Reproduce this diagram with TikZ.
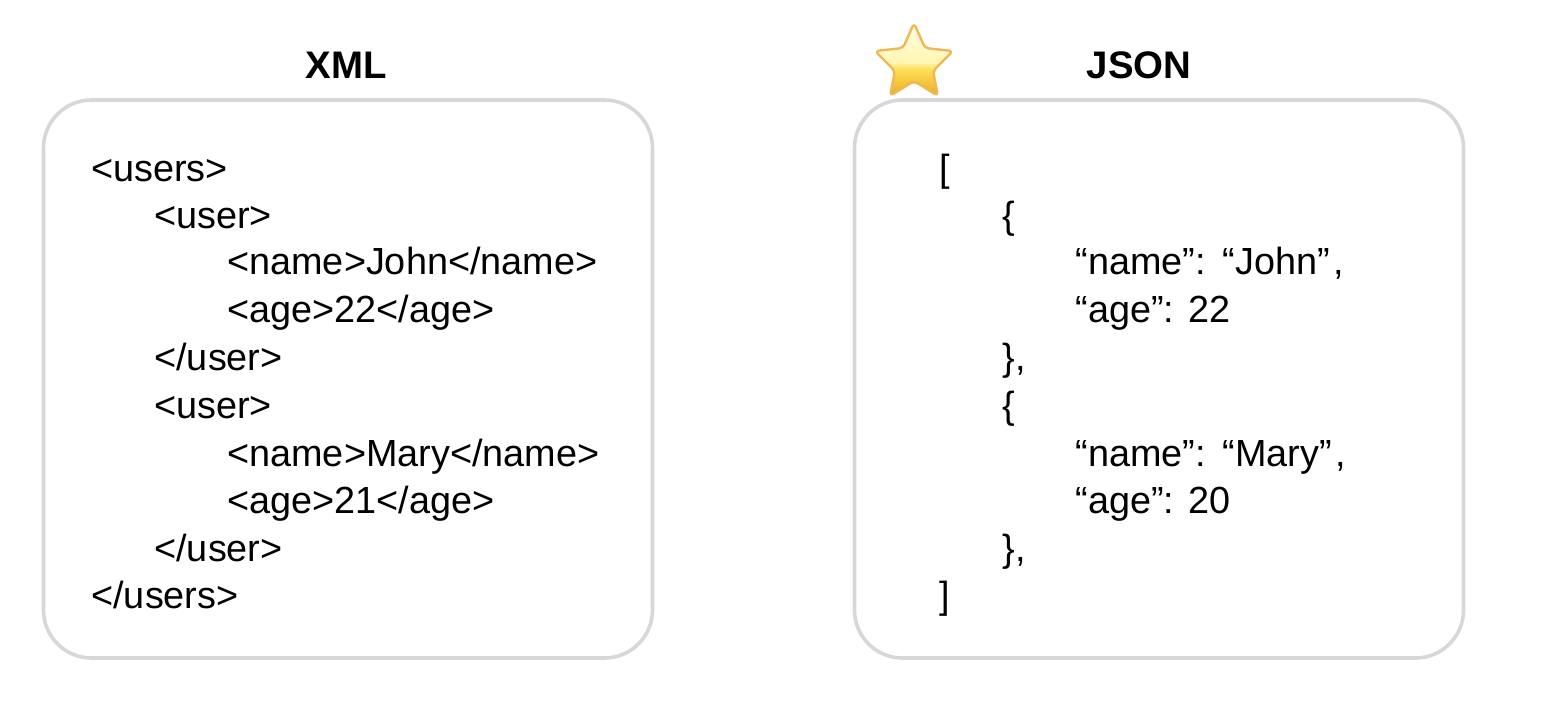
\documentclass[tikz,border=0pt]{standalone}
\usepackage{fontspec}
\setmainfont{Liberation Sans}
\usetikzlibrary{positioning}
\definecolor{boxgray}{RGB}{215,215,215}
\definecolor{staredge}{RGB}{238,185,85}
\definecolor{starA}{RGB}{232,170,45}
\definecolor{starB}{RGB}{245,200,60}
\definecolor{starC}{RGB}{252,225,90}
\definecolor{starD}{RGB}{255,246,180}
\definecolor{starE}{RGB}{255,253,225}
\pgfdeclareverticalshading{starfill}{100bp}{
	color(0bp)=(starA);
	color(25bp)=(starA);
	color(35bp)=(starB);
	color(44bp)=(starC);
	color(48bp)=(starD);
	color(75bp)=(starE);
	color(100bp)=(starE)}
\newlength{\unitpx}
\setlength{\unitpx}{0.5pt}
\tikzset{
	panel/.style={draw=boxgray, line width=1.8pt, rounded corners=24pt, minimum width=609\unitpx, minimum height=558\unitpx},
	heading/.style={font=\fontsize{19.2}{22}\selectfont\bfseries, anchor=base},
	codeline/.style={font=\fontsize{18.9}{22}\selectfont, anchor=base west, inner sep=0pt}
}
\begin{document}
\begin{tikzpicture}[x=\unitpx, y=-\unitpx]
	\useasboundingbox (0,0) rectangle (1542,720);
	\node [panel] (xmlbox) at (348,379) {};
	\node [panel] (jsonbox) at (1159,379) {};
	\node [heading] (xmltitle) at (346,78) {XML};
	\node [heading] (jsontitle) at (1139,78) {JSON};
	% left column
	\node [codeline] (x1) at (91,181) {<users>};
	\node [codeline] (x2) at (154,228) {<user>};
	\node [codeline] (x3) at (227,274) {<name>John</name>};
	\node [codeline] (x4) at (227,322) {<age>22</age>};
	\node [codeline] (x5) at (154,370) {</user>};
	\node [codeline] (x6) at (154,418) {<user>};
	\node [codeline] (x7) at (227,466) {<name>Mary</name>};
	\node [codeline] (x8) at (227,513) {<age>21</age>};
	\node [codeline] (x9) at (154,561) {</user>};
	\node [codeline] (x10) at (91,608) {</users>};
	% right column
	\node [codeline] (j1) at (939,181) {[};
	\node [codeline] (j2) at (1002,228) {\{};
	\node [codeline] (j3) at (1075,274) {“name”: \kern1.5pt“John”\kern2pt,};
	\node [codeline] (j4) at (1075,322) {“age”: 22};
	\node [codeline] (j5) at (1002,370) {\},};
	\node [codeline] (j6) at (1002,418) {\{};
	\node [codeline] (j7) at (1075,466) {“name”: \kern1.5pt“Mary”\kern2pt,};
	\node [codeline] (j8) at (1075,513) {“age”: 20};
	\node [codeline] (j9) at (1002,561) {\},};
	\node [codeline] (j10) at (939,608) {]};
	% star
	\draw [draw=staredge, line width=1.2pt, line join=round, shading=starfill, rounded corners=2pt]
		(914,23) -- (925,48) -- (953,51) -- (933,71) -- (938,96) -- (914,81) -- (890,96) -- (895,71) -- (875,51) -- (903,48) -- cycle;
\end{tikzpicture}
\end{document}
